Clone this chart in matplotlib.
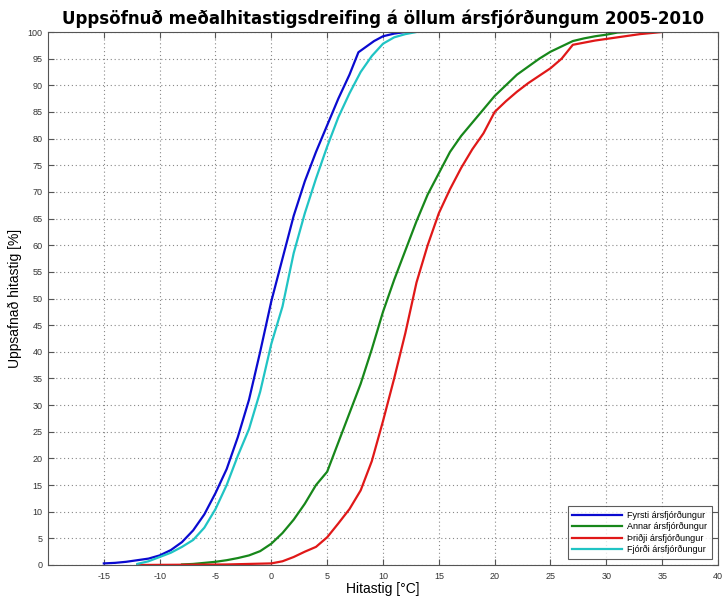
import matplotlib
matplotlib.use("Agg")
import matplotlib.pyplot as plt

# Data (temperature [°C], cumulative percentage [%])
t_q1 = [-15, -14, -13, -12, -11, -10, -9, -8, -7, -6, -5, -4, -3, -2, -1, 0, 1, 2, 3, 4, 5, 6, 7, 7.8, 9.2, 10, 11, 12]
p_q1 = [0.3, 0.4, 0.6, 0.9, 1.2, 1.8, 2.8, 4.3, 6.5, 9.5, 13.5, 18, 24, 31, 40, 49.5, 57.5, 65.5, 72, 77.5, 82.5, 87.5, 92, 96.2, 98.3, 99.2, 99.7, 100]

t_q2 = [-8, -7, -6, -5, -4, -3, -2, -1, 0, 1, 2, 3, 4, 5, 6, 7, 8, 9, 10, 11, 12, 13, 14, 15, 16, 17, 18, 19, 20, 21, 22, 23, 24, 25, 26, 27, 28, 29, 30, 31, 32]
p_q2 = [0.1, 0.2, 0.4, 0.6, 0.9, 1.3, 1.8, 2.6, 4, 6, 8.5, 11.5, 15, 17.5, 23, 28.5, 34, 40.5, 47.5, 53.5, 59, 64.5, 69.5, 73.5, 77.5, 80.5, 83, 85.5, 88, 90, 92, 93.5, 95, 96.3, 97.3, 98.3, 98.8, 99.2, 99.5, 99.9, 100]

t_q3 = [-12, -8, -4, -2, 0, 1, 2, 3, 4, 5, 6, 7, 8, 9, 10, 11, 12, 13, 14, 15, 16, 17, 18, 19, 20, 21, 22, 23, 24, 25, 26, 27, 28, 29, 30, 31, 32, 33, 34, 35]
p_q3 = [0, 0.05, 0.1, 0.2, 0.3, 0.7, 1.5, 2.5, 3.4, 5.2, 7.8, 10.5, 14, 19.5, 27, 35, 43.5, 53, 60, 66, 70.5, 74.5, 78, 81, 85, 87, 88.8, 90.4, 91.8, 93.2, 95, 97.6, 98, 98.4, 98.7, 99, 99.3, 99.6, 99.8, 100]

t_q4 = [-12, -11, -10, -9, -8, -7, -6, -5, -4, -3, -2, -1, 0, 1, 2, 3, 4, 5, 6, 7, 8, 9, 10, 11, 12, 13]
p_q4 = [0.2, 0.7, 1.5, 2.3, 3.4, 4.7, 7, 10.5, 15, 20.5, 25.5, 32.5, 41.5, 48.5, 58.5, 66, 72.5, 78.5, 84, 88.5, 92.5, 95.5, 97.8, 99, 99.6, 100]

labels = ["Fyrsti ársfjórðungur", "Annar ársfjórðungur", "Þriðji ársfjórðungur", "Fjórði ársfjórðungur"]
colors = ["#0a0ad0", "#17871a", "#e01818", "#20c4c4"]

xticks = list(range(-15, 41, 5))
yticks = list(range(0, 101, 5))

plt.rcParams['font.family'] = ['Liberation Sans', 'DejaVu Sans']
plt.rcParams['axes.unicode_minus'] = False

fig = plt.figure(figsize=(7.27, 5.97), dpi=100)
ax = fig.add_axes([48/727, 32/597, 670/727, 533/597])

for t, p, c, l in zip([t_q1, t_q2, t_q3, t_q4], [p_q1, p_q2, p_q3, p_q4], colors, labels):
    ax.plot(t, p, color=c, lw=1.6, label=l)

ax.set_xlim(-20, 40)
ax.set_ylim(0, 100)
ax.set_xticks(xticks)
ax.set_yticks(yticks)
ax.grid(True, linestyle=(0, (1, 2.5)), color="#888888", linewidth=0.8)
ax.tick_params(direction="in", top=True, right=True, labelsize=6.5, labelcolor="#333333",
               color="#555555", length=4)
ax.tick_params(axis="y", pad=4)
ax.tick_params(axis="x", pad=5)
for s in ax.spines.values():
    s.set_color("#555555")
    s.set_linewidth(0.8)

ax.set_xlabel("Hitastig [°C]", fontsize=10, labelpad=1)
ax.set_ylabel("Uppsafnað hitastig [%]", fontsize=10, labelpad=4)
ax.set_title("Uppsöfnuð meðalhitastigsdreifing á öllum ársfjórðungum 2005-2010",
             fontsize=12, fontweight="bold", family="DejaVu Sans", pad=6)

leg = ax.legend(loc="lower right", fontsize=6.5, handlelength=5.5, frameon=True,
                fancybox=False, edgecolor="#333333", borderaxespad=0.7,
                labelspacing=0.25, handletextpad=0.6, borderpad=0.5)
leg.get_frame().set_linewidth(0.8)

fig.savefig("out.png", dpi=100)
